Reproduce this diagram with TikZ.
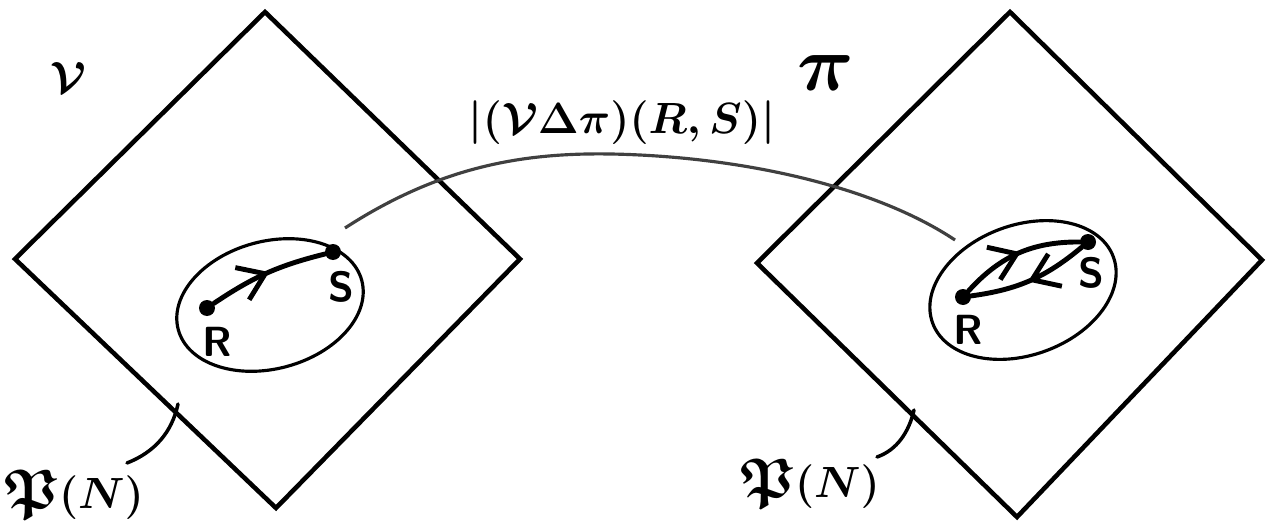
\documentclass[tikz,border=0pt]{standalone}
\usepackage{amssymb}
\usepackage{bm}
\usetikzlibrary{arrows.meta,decorations.markings,shapes.geometric}
\tikzset{
  frame/.style={line width=2.6pt, line join=miter},
  blob/.style={ellipse, draw, line width=1.8pt, inner sep=0pt},
  dotpt/.style={circle, fill, inner sep=0pt, minimum size=0.32cm},
  edge/.style={line width=2.8pt, line cap=round},
  midarrow/.style={postaction={decorate}, decoration={markings,
      mark=at position 0.52 with {\arrow{Straight Barb[length=5mm,width=7mm,line width=2.8pt]}}}},
  link/.style={line width=1.8pt, draw=black!75},
  lead/.style={line width=2pt, line cap=round},
  ptlabel/.style={font=\sffamily\bfseries\fontsize{24}{26}\selectfont, inner sep=0pt},
  biglabel/.style={font=\boldmath\fontsize{52}{56}\selectfont, inner sep=0pt},
  powlabel/.style={font=\boldmath\fontsize{32}{36}\selectfont, inner sep=0pt},
}
\begin{document}
\begin{tikzpicture}[x=0.02cm,y=-0.02cm]
\useasboundingbox (0,0) rectangle (1272,524);
\clip (0,0) rectangle (1272,524);
% diamonds
\draw[frame] (15,259) -- (265,12) -- (520,259) -- (276,508) -- cycle;
\draw[frame] (757,263) -- (1010,12) -- (1262,260) -- (1017,517) -- cycle;
% ellipses
\node[blob, minimum width=3.8cm, minimum height=2.55cm, rotate=15] (E1) at (270,305) {};
\node[blob, minimum width=3.85cm, minimum height=2.6cm, rotate=20] (E2) at (1023,290) {};
% points
\node[dotpt] (R1) at (207,308) {};
\node[dotpt] (S1) at (333,252) {};
\node[dotpt] (R2) at (963,297) {};
\node[dotpt] (S2) at (1088,242) {};
\node[ptlabel] (r1) at (217,342) {R};
\node[ptlabel] (s1) at (341,287) {S};
\node[ptlabel] (r2) at (968,330) {R};
\node[ptlabel] (s2) at (1091,273) {S};
% arrows
\draw[edge, midarrow] (R1) to[bend left=10] (S1);
\draw[edge, midarrow] (R2) to[bend left=24] (S2);
\draw[edge, midarrow] (S2) to[bend left=16] (R2);
% connector between ellipses
\coordinate (c1) at (345,228);
\coordinate (c2) at (955,240);
\draw[link] (c1) .. controls (450,160) and (540,150) .. (640,155)
            .. controls (760,161) and (880,190) .. (c2);
\node[font=\boldmath\fontsize{25}{28}\selectfont, inner sep=0pt] (lab) at (622,123)
  {$\bigl|(\mathcal{V}\Delta\pi)(R,S)\bigr|$};
% set labels
\node[biglabel] (V) at (68,78) {$\mathcal{V}$};
\node[biglabel, scale=1.8] (P) at (826,73) {$\pi$};
% power set labels
\node[powlabel] (p1) at (74,495) {$\mathfrak{P}(N)$};
\node[powlabel] (p2) at (810,484) {$\mathfrak{P}(N)$};
\coordinate (a1) at (127,463);
\coordinate (a2) at (877,457);
\coordinate (q1) at (178,404);
\coordinate (q2) at (914,410);
\draw[lead] (a1) .. controls (155,452) and (172,432) .. (q1);
\draw[lead] (a2) .. controls (897,450) and (909,432) .. (q2);
\end{tikzpicture}
\end{document}
